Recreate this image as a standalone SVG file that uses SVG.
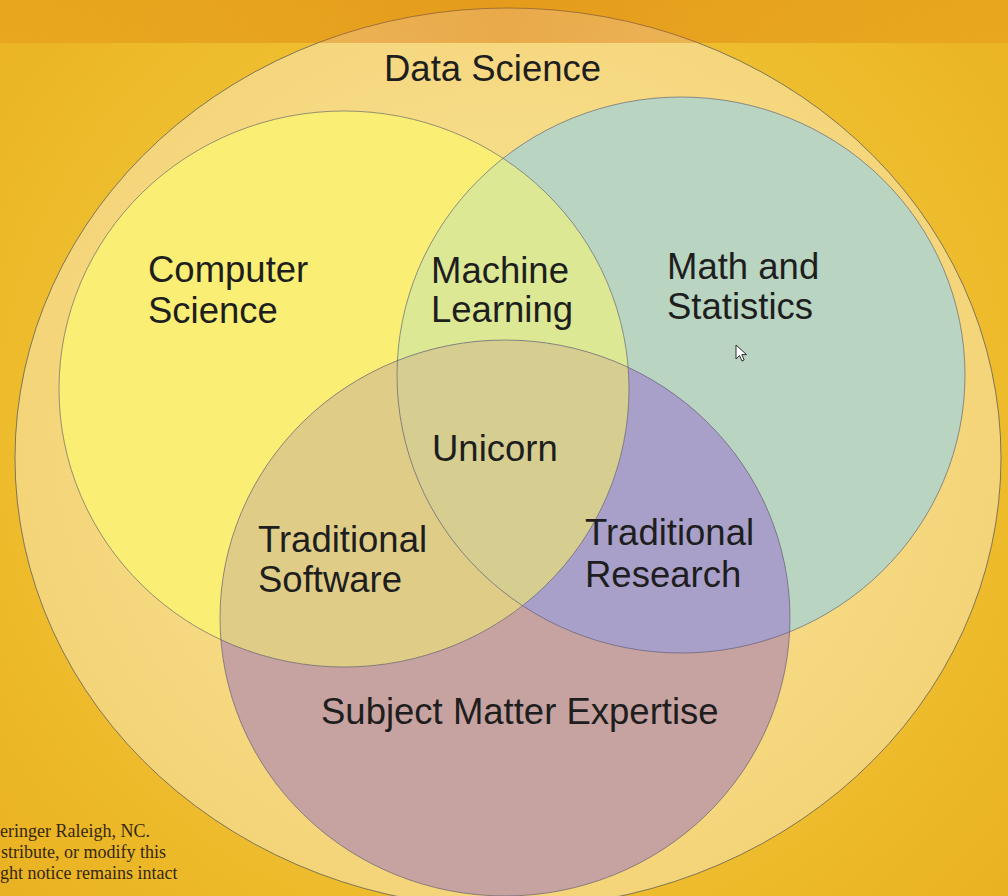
<svg xmlns="http://www.w3.org/2000/svg" width="1008" height="896" viewBox="0 0 1008 896">
<defs>
<radialGradient id="bg" cx="504" cy="430" r="720" gradientUnits="userSpaceOnUse">
<stop offset="0" stop-color="#f7d352"/>
<stop offset="0.55" stop-color="#efc030"/>
<stop offset="1" stop-color="#e9b020"/>
</radialGradient>
<radialGradient id="ds" cx="508" cy="420" r="500" gradientUnits="userSpaceOnUse">
<stop offset="0" stop-color="#fae59a"/>
<stop offset="1" stop-color="#f4d478"/>
</radialGradient>
<linearGradient id="band" x1="0" y1="0" x2="1" y2="0">
<stop offset="0" stop-color="#d86a00" stop-opacity="0.18"/>
<stop offset="0.5" stop-color="#d86a00" stop-opacity="0.42"/>
<stop offset="1" stop-color="#d86a00" stop-opacity="0.18"/>
</linearGradient>
<clipPath id="cY"><ellipse cx="344" cy="389" rx="285" ry="278"/></clipPath>
<clipPath id="cG"><ellipse cx="681" cy="375" rx="284" ry="278"/></clipPath>
<clipPath id="cP"><ellipse cx="505" cy="618" rx="285" ry="278"/></clipPath>
</defs>
<style>
.lbl{font-family:"Liberation Sans",Arial,sans-serif;font-size:36.5px;fill:#1e1e1e}
.edge{fill:none;stroke:#55556a;stroke-width:1;stroke-opacity:0.6}
.cr{font-family:"Liberation Serif","Times New Roman",serif;font-size:18px;fill:#35280f}
</style>
<rect x="0" y="0" width="1008" height="896" fill="url(#bg)"/>
<g id="data-science">
<ellipse cx="508" cy="458" rx="493" ry="450" fill="url(#ds)" stroke="#5a5a5a" stroke-width="1" stroke-opacity="0.75"/>
<text class="lbl" x="384" y="81">Data Science</text>
</g>
<g id="computer-science">
<ellipse cx="344" cy="389" rx="285" ry="278" fill="#faef74"/>
</g>
<g id="math-statistics">
<ellipse cx="681" cy="375" rx="284" ry="278" fill="#b9d5c1"/>
</g>
<g id="subject-matter-expertise">
<ellipse cx="505" cy="618" rx="285" ry="278" fill="#c6a2a0"/>
</g>
<g id="machine-learning">
<ellipse cx="344" cy="389" rx="285" ry="278" fill="#dce894" clip-path="url(#cG)"/>
</g>
<g id="traditional-software">
<ellipse cx="344" cy="389" rx="285" ry="278" fill="#dfcd87" clip-path="url(#cP)"/>
</g>
<g id="traditional-research">
<ellipse cx="681" cy="375" rx="284" ry="278" fill="#a9a0ca" clip-path="url(#cP)"/>
</g>
<g id="unicorn">
<g clip-path="url(#cP)"><ellipse cx="344" cy="389" rx="285" ry="278" fill="#d6cd91" clip-path="url(#cG)"/></g>
</g>
<g id="outlines">
<ellipse class="edge" cx="344" cy="389" rx="285" ry="278"/>
<ellipse class="edge" cx="681" cy="375" rx="284" ry="278"/>
<ellipse class="edge" cx="505" cy="618" rx="285" ry="278" stroke="#50508a"/>
</g>
<g id="labels">
<text class="lbl" x="148" y="282">Computer</text>
<text class="lbl" x="148" y="323">Science</text>
<text class="lbl" x="431" y="283">Machine</text>
<text class="lbl" x="431" y="322">Learning</text>
<text class="lbl" x="667" y="279">Math and</text>
<text class="lbl" x="667" y="319">Statistics</text>
<text class="lbl" x="432" y="461">Unicorn</text>
<text class="lbl" x="258" y="552">Traditional</text>
<text class="lbl" x="258" y="592">Software</text>
<text class="lbl" x="585" y="545">Traditional</text>
<text class="lbl" x="585" y="587">Research</text>
<text class="lbl" x="321" y="724">Subject Matter Expertise</text>
</g>
<g id="connectors"/>
<rect x="0" y="0" width="1008" height="43" fill="url(#band)"/>
<g id="copyright">
<text class="cr" x="0" y="837">eringer Raleigh, NC.</text>
<text class="cr" x="1" y="858">stribute, or modify this</text>
<text class="cr" x="0" y="879">ght notice remains intact</text>
</g>
<g id="cursor">
<path d="M736,345 L736,359 L739.5,355.5 L742,361 L744.2,360 L741.8,354.6 L746.5,354.6 Z" fill="#ffffff" stroke="#2a2a2a" stroke-width="1"/>
</g>
</svg>
